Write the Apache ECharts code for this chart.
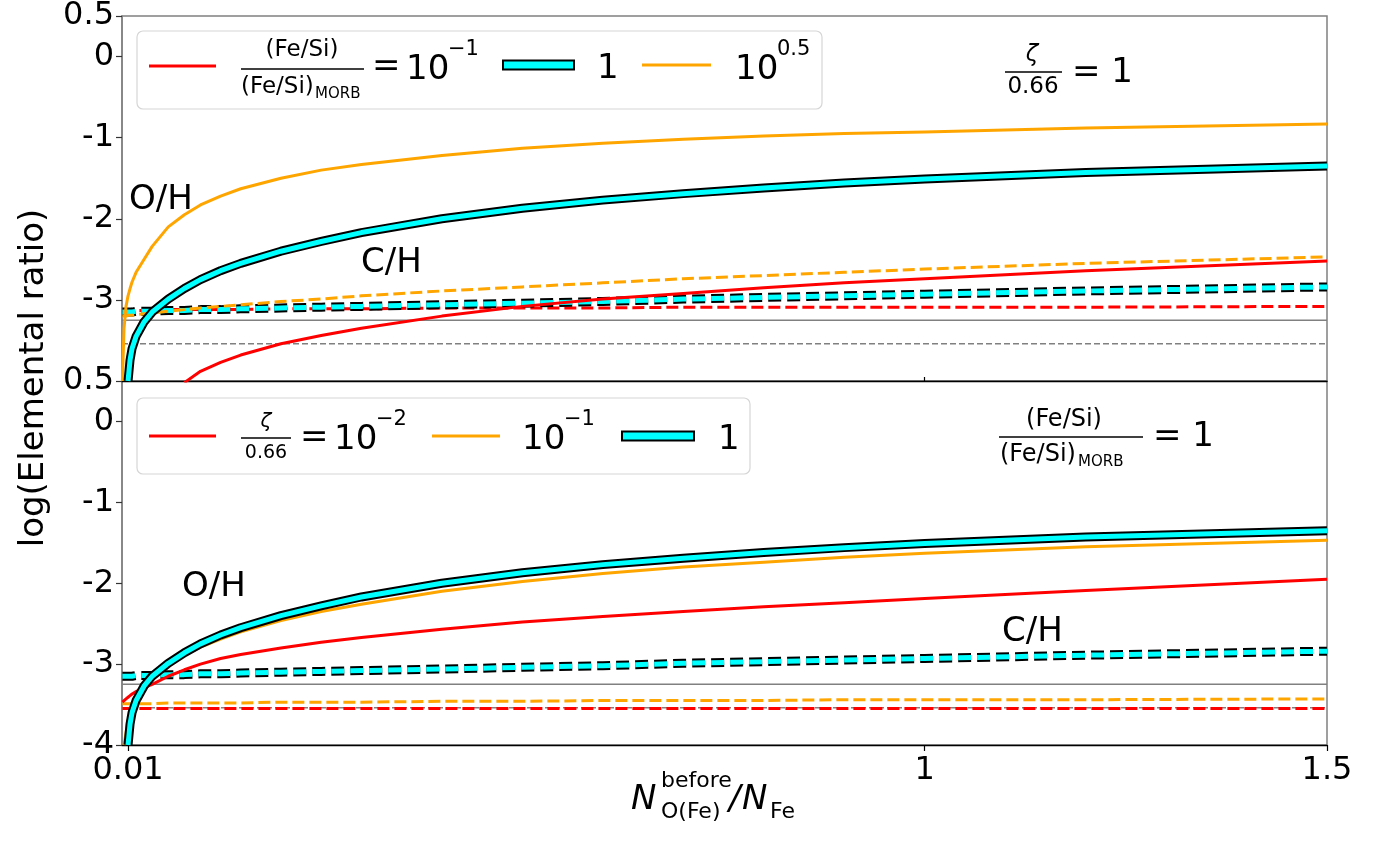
<!DOCTYPE html>
<html>
<head>
<meta charset="utf-8">
<script src="https://cdn.jsdelivr.net/npm/echarts@6/dist/echarts.min.js"></script>
<style>
html, body { margin: 0; padding: 0; background: #fff; }
#main { width: 1382px; height: 842px; }
</style>
</head>
<body>
<div id="main"></div>
<script>
// tick values
var xTicks = [0.01, 1, 1.5];
var yTicksTop = [-3, -2, -1, 0, 0.5];
var yTicksBottom = [-4, -3, -2, -1, 0, 0.5];

// sample positions on N_O(Fe)/N_Fe
var xs = [0.003, 0.005, 0.0075, 0.01, 0.0125, 0.015, 0.02, 0.03, 0.04, 0.06, 0.08, 0.1, 0.125, 0.15, 0.2, 0.25, 0.3, 0.4, 0.5, 0.6, 0.7, 0.8, 0.9, 1.0, 1.2, 1.5];

// Fe/Si = 1, zeta = 1 (same curve in both panels)
var ohCyan = [null, null, null, -4.0, -3.74, -3.6, -3.45, -3.27, -3.15, -2.99, -2.86, -2.75, -2.64, -2.55, -2.4, -2.28, -2.17, -2.0, -1.87, -1.77, -1.69, -1.62, -1.56, -1.51, -1.43, -1.35];
var chCyan = [-3.15, -3.15, -3.15, -3.15, -3.15, -3.15, -3.14, -3.14, -3.14, -3.13, -3.13, -3.12, -3.12, -3.11, -3.10, -3.09, -3.08, -3.06, -3.04, -3.02, -2.99, -2.97, -2.95, -2.93, -2.89, -2.84];

// top panel: Fe/Si = 10^-1 (red), 10^0.5 (orange)
var ohTopRed = [null, null, null, null, null, null, null, null, null, null, -4.02, -3.88, -3.77, -3.68, -3.54, -3.44, -3.35, -3.2, -3.08, -2.99, -2.92, -2.85, -2.79, -2.74, -2.64, -2.52];
var ohTopOrange = [-4.0, -3.35, -3.08, -2.95, -2.86, -2.78, -2.66, -2.5, -2.34, -2.1, -1.95, -1.83, -1.72, -1.63, -1.5, -1.4, -1.33, -1.22, -1.13, -1.07, -1.02, -0.98, -0.95, -0.93, -0.88, -0.83];
var chTopRed = [-3.13, -3.13, -3.13, -3.13, -3.13, -3.13, -3.13, -3.13, -3.12, -3.12, -3.12, -3.12, -3.12, -3.12, -3.11, -3.11, -3.11, -3.1, -3.1, -3.1, -3.09, -3.09, -3.09, -3.09, -3.09, -3.08];
var chTopOrange = [-3.2, -3.2, -3.2, -3.19, -3.19, -3.19, -3.18, -3.17, -3.16, -3.14, -3.12, -3.1, -3.08, -3.06, -3.02, -2.99, -2.95, -2.89, -2.84, -2.79, -2.74, -2.7, -2.66, -2.62, -2.55, -2.47];

// bottom panel: zeta/0.66 = 10^-2 (red), 10^-1 (orange)
var ohBotRed = [-3.47, -3.45, -3.43, -3.41, -3.39, -3.37, -3.34, -3.29, -3.25, -3.15, -3.07, -3.0, -2.93, -2.88, -2.8, -2.73, -2.67, -2.57, -2.48, -2.41, -2.35, -2.29, -2.24, -2.19, -2.09, -1.95];
var ohBotOrange = [null, -4.0, -3.85, -3.7, -3.6, -3.52, -3.42, -3.27, -3.16, -3.01, -2.89, -2.79, -2.69, -2.6, -2.46, -2.35, -2.26, -2.1, -1.98, -1.88, -1.8, -1.74, -1.68, -1.63, -1.55, -1.47];
var chBotRed = [-3.55, -3.55, -3.55, -3.55, -3.55, -3.55, -3.55, -3.55, -3.55, -3.55, -3.55, -3.55, -3.55, -3.55, -3.55, -3.55, -3.55, -3.55, -3.55, -3.55, -3.55, -3.55, -3.55, -3.55, -3.55, -3.55];
var chBotOrange = [-3.49, -3.49, -3.49, -3.49, -3.49, -3.49, -3.49, -3.49, -3.49, -3.48, -3.48, -3.48, -3.48, -3.48, -3.47, -3.47, -3.47, -3.46, -3.46, -3.45, -3.45, -3.45, -3.44, -3.44, -3.44, -3.43];

// gray reference levels
var refX = [0.0025, 1.5];
var refSolid = [-3.25, -3.25];
var refDashed = [-3.54, -3.54];

var FONT = 'DejaVu Sans';

function pairs(xv, yv) {
    var out = [];
    for (var i = 0; i < xv.length; i++) {
        if (yv[i] != null) out.push([xv[i], yv[i]]);
    }
    return out;
}

function line(panel, yv, color, width, dash) {
    return {
        type: 'line',
        xAxisIndex: panel,
        yAxisIndex: panel,
        data: pairs(xs, yv),
        symbol: 'none',
        smooth: false,
        clip: true,
        silent: true,
        lineStyle: { color: color, width: width, type: dash ? [12, 5] : 'solid', cap: 'butt', join: 'round' }
    };
}

function refLine(panel, yv, dashed) {
    return {
        type: 'line', xAxisIndex: panel, yAxisIndex: panel,
        data: pairs(refX, yv), symbol: 'none', silent: true,
        lineStyle: { color: '#808080', width: 1.5, type: dashed ? [6, 3] : 'solid' }
    };
}

// cyan curve: black outline + cyan core
function cyanLine(panel, yv, dash) {
    var a = line(panel, yv, '#000', 9, dash);
    var b = line(panel, yv, '#00ffff', 5, dash);
    if (dash) {
        a.lineStyle.type = [13, 6];
        b.lineStyle.type = [13, 6];
    }
    return [a, b];
}

function txt(x, y, s, size, extra) {
    var st = { text: s, fontSize: size, fontFamily: FONT, fill: '#000', align: 'left', verticalAlign: 'middle' };
    for (var k in (extra || {})) st[k] = extra[k];
    return { type: 'text', x: x, y: y, z: 100, style: st };
}

function seg(x1, y1, x2, y2, color, w) {
    return { type: 'line', z: 100, shape: { x1: x1, y1: y1, x2: x2, y2: y2 }, style: { stroke: color, lineWidth: w } };
}

function cyanKey(x, y, w) {
    return { type: 'rect', z: 100, shape: { x: x, y: y - 4.5, width: w, height: 9 }, style: { fill: '#00ffff', stroke: '#000', lineWidth: 2 } };
}

var series = [];
// top panel
series.push(refLine(0, refSolid, false), refLine(0, refDashed, true));
series.push(line(0, chTopRed, 'red', 3, true));
series = series.concat(cyanLine(0, chCyan, true));
series.push(line(0, chTopOrange, 'orange', 3, true));
series.push(line(0, ohTopRed, 'red', 3, false));
series.push(line(0, ohTopOrange, 'orange', 3, false));
series = series.concat(cyanLine(0, ohCyan, false));
// bottom panel
series.push(refLine(1, refSolid, false), refLine(1, refDashed, true));
series.push(line(1, chBotRed, 'red', 3, true));
series.push(line(1, chBotOrange, 'orange', 3, true));
series = series.concat(cyanLine(1, chCyan, true));
series.push(line(1, ohBotRed, 'red', 3, false));
series.push(line(1, ohBotOrange, 'orange', 3, false));
series = series.concat(cyanLine(1, ohCyan, false));

function xAxisCfg(idx, showLabels) {
    return {
        type: 'value', gridIndex: idx, min: 0.0025, max: 1.5,
        splitLine: { show: false },
        axisLine: { show: true, onZero: false, lineStyle: { color: '#000', width: 1.3 } },
        axisTick: showLabels
            ? { show: true, customValues: xTicks, length: 6, lineStyle: { color: '#000', width: 1.2 } }
            : { show: true, customValues: [1], inside: true, length: 4, lineStyle: { color: '#000', width: 1.2 } },
        axisLabel: showLabels ? {
            show: true, customValues: xTicks, fontSize: 32, fontFamily: FONT, color: '#000', margin: 10,
            formatter: function (v) { return String(v); }
        } : { show: false }
    };
}

function yAxisCfg(idx, ticks) {
    return {
        type: 'value', gridIndex: idx, min: -4, max: 0.5,
        splitLine: { show: false },
        axisLine: { show: true, onZero: false, lineStyle: { color: '#808080', width: 1.5 } },
        axisTick: { show: true, customValues: ticks, length: 6, lineStyle: { color: '#333', width: 1.2 } },
        axisLabel: {
            show: true, customValues: ticks, fontSize: 32, fontFamily: FONT, color: '#000', margin: 8,
            formatter: function (v) { return String(v); }
        }
    };
}

var graphics = [
    // y axis title
    { type: 'text', x: 34, y: 378, rotation: Math.PI / 2, z: 100,
      style: { text: 'log(Elemental ratio)', fontSize: 34, fontFamily: FONT, fill: '#000', align: 'center', verticalAlign: 'middle' } },
    // x axis title
    txt(631, 800, 'N', 34, { fontStyle: 'italic' }),
    txt(661, 781, 'before', 22),
    txt(661, 812, 'O(Fe)', 22),
    txt(729, 800, '/', 34, { fontStyle: 'italic' }),
    txt(742, 800, 'N', 34, { fontStyle: 'italic' }),
    txt(770, 812, 'Fe', 22),

    // panel labels
    txt(129, 200, 'O/H', 34),
    txt(361, 263, 'C/H', 34),
    txt(182, 587, 'O/H', 34),
    txt(1002, 632, 'C/H', 34),

    // top right annotation: zeta/0.66 = 1
    txt(1032, 55, 'ζ', 23, { align: 'center', fontStyle: 'italic' }),
    seg(1005, 72, 1062, 72, '#000', 1.5),
    txt(1033, 87, '0.66', 23, { align: 'center' }),
    txt(1072, 73, '= 1', 34),

    // bottom right annotation: (Fe/Si)/(Fe/Si)_MORB = 1
    txt(1064, 420, '(Fe/Si)', 24, { align: 'center' }),
    seg(999, 437, 1143, 437, '#000', 1.5),
    txt(1000, 455, '(Fe/Si)', 24),
    txt(1078, 462, 'MORB', 15),
    txt(1153, 437, '= 1', 34),

    // legend top
    { type: 'rect', z: 99, shape: { x: 137, y: 31, width: 685, height: 78, r: 6 },
      style: { fill: 'rgba(255,255,255,0.8)', stroke: '#d6d6d6', lineWidth: 1.2 } },
    seg(149, 66, 216, 66, 'red', 3),
    txt(302, 50, '(Fe/Si)', 23, { align: 'center' }),
    seg(241, 69, 364, 69, '#000', 1.5),
    txt(241, 87, '(Fe/Si)', 23),
    txt(315, 94, 'MORB', 15),
    txt(372, 67, '=', 34),
    txt(406, 70, '10', 34),
    txt(448, 50, '\u22121', 21),
    cyanKey(503, 65, 71),
    txt(597, 69, '1', 34),
    seg(642, 65, 711, 65, 'orange', 3),
    txt(735, 70, '10', 34),
    txt(777, 50, '0.5', 21),

    // legend bottom
    { type: 'rect', z: 99, shape: { x: 137, y: 398, width: 613, height: 76, r: 6 },
      style: { fill: 'rgba(255,255,255,0.8)', stroke: '#d6d6d6', lineWidth: 1.2 } },
    seg(149, 436, 216, 436, 'red', 3),
    txt(266, 422, 'ζ', 20, { align: 'center', fontStyle: 'italic' }),
    seg(241, 438, 291, 438, '#000', 1.5),
    txt(266, 453, '0.66', 19, { align: 'center' }),
    txt(300, 438, '=', 34),
    txt(334, 440, '10', 34),
    txt(376, 420, '\u22122', 21),
    seg(432, 436, 500, 436, 'orange', 3),
    txt(522, 440, '10', 34),
    txt(564, 420, '\u22121', 21),
    cyanKey(622, 436, 72),
    txt(718, 440, '1', 34)
];

var chart = echarts.init(document.getElementById('main'));
chart.setOption({
    animation: false,
    backgroundColor: '#fff',
    grid: [
        { left: 122, top: 15, width: 1205, height: 366, show: true, borderColor: '#808080', borderWidth: 1.5 },
        { left: 122, top: 381, width: 1205, height: 364, show: true, borderColor: '#808080', borderWidth: 1.5 }
    ],
    xAxis: [xAxisCfg(0, false), xAxisCfg(1, true)],
    yAxis: [yAxisCfg(0, yTicksTop), yAxisCfg(1, yTicksBottom)],
    series: series,
    graphic: graphics
});
window.onresize = function () { chart.resize(); };
</script>
</body>
</html>
